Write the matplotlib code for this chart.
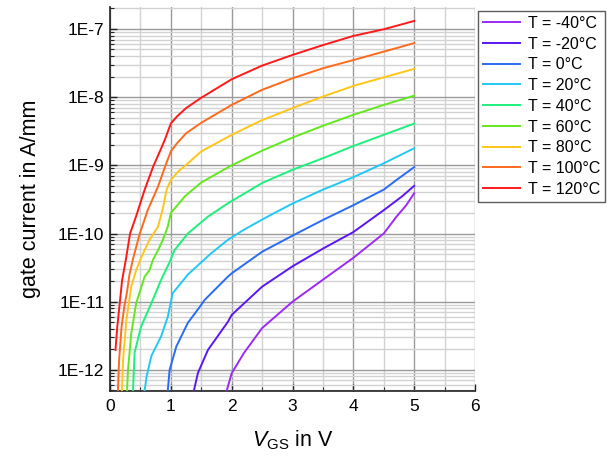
import numpy as np
import matplotlib
matplotlib.use("Agg")
import matplotlib.pyplot as plt
from matplotlib.ticker import FixedLocator, FuncFormatter, LogLocator, NullFormatter, MultipleLocator

plt.rcParams['font.family'] = ['Liberation Sans', 'DejaVu Sans']
plt.rcParams['mathtext.fontset'] = 'custom'
plt.rcParams['mathtext.rm'] = 'Liberation Sans'
plt.rcParams['mathtext.it'] = 'Liberation Sans:italic'

labels = ["T = -40°C", "T = -20°C", "T = 0°C", "T = 20°C", "T = 40°C",
          "T = 60°C", "T = 80°C", "T = 100°C", "T = 120°C"]
colors = ["#9B2AF5", "#5A17F2", "#2A6BF5", "#22C8F5", "#1EF07C",
          "#62E81E", "#FFC61A", "#FF6A1E", "#FF1A1A"]

x_m40 = [1.92, 2.0, 2.2, 2.5, 3.0, 3.5, 4.0, 4.5, 4.71, 4.87, 5.0]
y_m40 = [5e-13, 8.9e-13, 1.76e-12, 4.1e-12, 1.0e-11, 2.1e-11, 4.4e-11, 1.0e-10, 1.77e-10, 2.6e-10, 3.9e-10]

x_m20 = [1.38, 1.445, 1.61, 1.94, 2.0, 2.5, 3.0, 3.5, 4.0, 4.5, 4.8, 5.0]
y_m20 = [5e-13, 9e-13, 1.96e-12, 5.1e-12, 6.4e-12, 1.66e-11, 3.3e-11, 6.0e-11, 1.05e-10, 2.2e-10, 3.5e-10, 5.0e-10]

x_0 = [0.95, 0.98, 1.09, 1.28, 1.48, 1.555, 1.94, 2.0, 2.5, 3.0, 3.5, 4.0, 4.5, 4.71, 5.0]
y_0 = [5e-13, 1e-12, 2.2e-12, 4.9e-12, 8.5e-12, 1.06e-11, 2.34e-11, 2.6e-11, 5.4e-11, 9.3e-11, 1.58e-10, 2.6e-10, 4.4e-10, 6.1e-10, 9.4e-10]

x_20 = [0.57, 0.60, 0.68, 0.84, 0.95, 1.03, 1.28, 1.53, 1.66, 1.94, 2.19, 2.5, 2.68, 3.0, 3.5, 4.0, 4.5, 5.0]
y_20 = [5e-13, 7.9e-13, 1.6e-12, 3.1e-12, 6e-12, 1.33e-11, 2.5e-11, 4.0e-11, 5.1e-11, 8.1e-11, 1.12e-10, 1.6e-10, 1.95e-10, 2.75e-10, 4.4e-10, 6.7e-10, 1.07e-9, 1.78e-9]

x_40 = [0.378, 0.405, 0.51, 0.68, 0.84, 0.98, 1.06, 1.28, 1.61, 1.94, 2.5, 3.0, 3.5, 4.0, 4.5, 5.0]
y_40 = [5e-13, 1.8e-12, 4.3e-12, 9.5e-12, 2.09e-11, 3.8e-11, 5.7e-11, 1.0e-10, 1.77e-10, 2.78e-10, 5.5e-10, 8.6e-10, 1.27e-9, 1.92e-9, 2.8e-9, 4.1e-9]

x_60 = [0.28, 0.296, 0.35, 0.43, 0.57, 0.65, 0.706, 0.79, 0.87, 0.95, 1.0, 1.23, 1.5, 2.0, 2.5, 3.0, 3.5, 4.0, 4.5, 5.0]
y_60 = [5e-13, 1e-12, 3.45e-12, 9.5e-12, 2.34e-11, 2.9e-11, 4.1e-11, 5.7e-11, 8.1e-11, 1.26e-10, 2.0e-10, 3.5e-10, 5.6e-10, 1.0e-9, 1.64e-9, 2.55e-9, 3.8e-9, 5.5e-9, 7.7e-9, 1.05e-8]

x_80 = [0.197, 0.215, 0.27, 0.35, 0.43, 0.52, 0.65, 0.79, 0.87, 0.93, 1.0, 1.12, 1.28, 1.5, 2.0, 2.5, 3.0, 3.5, 4.0, 4.5, 5.0]
y_80 = [5e-13, 1.4e-12, 5.4e-12, 1.66e-11, 2.9e-11, 4.6e-11, 8.1e-11, 1.26e-10, 2.35e-10, 4.4e-10, 6.1e-10, 8.1e-10, 1.07e-9, 1.6e-9, 2.8e-9, 4.6e-9, 6.9e-9, 1.02e-8, 1.46e-8, 1.95e-8, 2.6e-8]

x_100 = [0.13, 0.15, 0.19, 0.24, 0.28, 0.32, 0.38, 0.49, 0.62, 0.79, 0.925, 1.0, 1.1, 1.25, 1.5, 2.0, 2.5, 3.0, 3.5, 4.0, 4.5, 5.0]
y_100 = [5e-13, 1.4e-12, 4.3e-12, 9e-12, 1.4e-11, 2.5e-11, 4.3e-11, 1.0e-10, 2.2e-10, 4.9e-10, 1.07e-9, 1.59e-9, 2.1e-9, 2.95e-9, 4.2e-9, 7.7e-9, 1.28e-8, 1.89e-8, 2.65e-8, 3.5e-8, 4.65e-8, 6.2e-8]

x_120 = [0.09, 0.12, 0.16, 0.20, 0.26, 0.33, 0.43, 0.57, 0.71, 0.83, 0.90, 1.0, 1.1, 1.25, 1.5, 2.0, 2.5, 3.0, 3.5, 4.0, 4.5, 5.0]
y_120 = [1.96e-12, 4.3e-12, 9.5e-12, 2.1e-11, 4.1e-11, 1.0e-10, 1.8e-10, 4.4e-10, 9.6e-10, 1.68e-9, 2.36e-9, 4.1e-9, 5.2e-9, 6.9e-9, 9.8e-9, 1.83e-8, 2.9e-8, 4.16e-8, 5.8e-8, 7.9e-8, 9.9e-8, 1.31e-7]

series_x = [x_m40, x_m20, x_0, x_20, x_40, x_60, x_80, x_100, x_120]
series_y = [y_m40, y_m20, y_0, y_20, y_40, y_60, y_80, y_100, y_120]

ytick_vals = [1e-12, 1e-11, 1e-10, 1e-9, 1e-8, 1e-7]
ytick_labels = ["1E-12", "1E-11", "1E-10", "1E-9", "1E-8", "1E-7"]
xtick_vals = [0, 1, 2, 3, 4, 5, 6]

fig = plt.figure(figsize=(6.13, 4.61), dpi=100)
ax = fig.add_axes([110/613, 1 - 391/461, (475 - 110)/613, (391 - 7)/461])

lines = []
for xs, ys, c, lab in zip(series_x, series_y, colors, labels):
    ln, = ax.plot(xs, ys, color=c, lw=1.4, label=lab, zorder=3)
    lines.append(ln)

ax.set_yscale('log')
ax.set_xlim(0, 6)
ax.set_ylim(4.9e-13, 2.1e-7)

ax.xaxis.set_major_locator(FixedLocator(xtick_vals))
ax.xaxis.set_minor_locator(MultipleLocator(0.5))
ax.yaxis.set_major_locator(FixedLocator(ytick_vals))
ax.yaxis.set_major_formatter(FuncFormatter(lambda v, p: ytick_labels[ytick_vals.index(min(ytick_vals, key=lambda t: abs(np.log10(t) - np.log10(v))))]))
ax.yaxis.set_minor_locator(LogLocator(base=10, subs=np.arange(2, 10), numticks=20))
ax.yaxis.set_minor_formatter(NullFormatter())

ax.grid(True, which='major', color='#9a9a9a', lw=1.0, zorder=0)
ax.grid(True, which='minor', color='#d2d2d2', lw=1.0, zorder=0)
ax.set_axisbelow(True)

for s in ['top', 'right']:
    ax.spines[s].set_visible(False)
for s in ['left', 'bottom']:
    ax.spines[s].set_linewidth(1.2)
    ax.spines[s].set_color('#222222')

ax.tick_params(axis='both', which='major', direction='in', length=5, width=1.0, labelsize=12.5, color='#222222')
ax.tick_params(axis='both', which='minor', direction='in', length=3, width=0.8, color='#222222')
ax.tick_params(axis='x', pad=6)
ax.tick_params(axis='y', pad=4)

ax.set_ylabel("gate current in A/mm", fontsize=15.5, labelpad=12)
ax.set_xlabel(r"$V_{\mathrm{GS}}$ in V", fontsize=15.5, labelpad=10)

leg = fig.legend(handles=lines, labels=labels, loc='upper left',
                 bbox_to_anchor=(478/613, 1 - 11/461), bbox_transform=fig.transFigure,
                 fontsize=11.5, frameon=True, fancybox=False, borderpad=0.3,
                 labelspacing=0.36, handlelength=2.3, handletextpad=0.5, borderaxespad=0)
leg.get_frame().set_edgecolor('#333333')
leg.get_frame().set_linewidth(1.0)

fig.savefig("out.png", dpi=100)
